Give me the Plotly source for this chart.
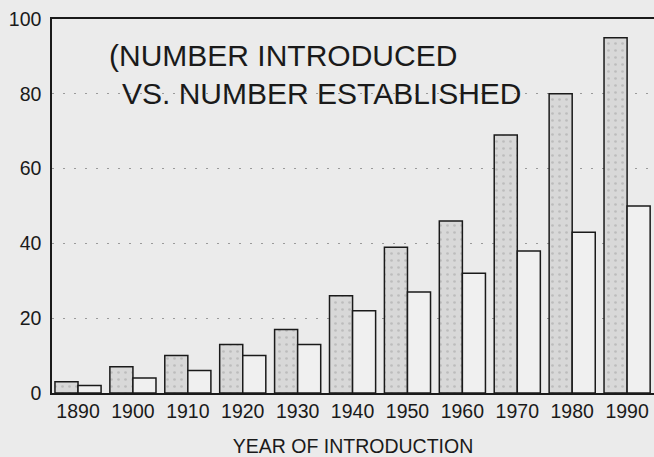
import plotly.graph_objects as go

decades = ["1890", "1900", "1910", "1920", "1930", "1940", "1950", "1960", "1970", "1980", "1990"]
introduced = [3, 7, 10, 13, 17, 26, 39, 46, 69, 80, 95]
established = [2, 4, 6, 10, 13, 22, 27, 32, 38, 43, 50]
y_ticks = [0, 20, 40, 60, 80, 100]

BG = "#ebebeb"
FONT = "Liberation Sans, Arial, sans-serif"

fig = go.Figure()
fig.add_trace(go.Bar(
    x=decades, y=introduced, name="Introduced",
    marker=dict(color="#d8d8d8", line=dict(color="#1a1a1a", width=1.5),
                pattern=dict(shape=".", fgcolor="#a0a0a0", bgcolor="#d8d8d8", size=7, solidity=0.12)),
))
fig.add_trace(go.Bar(
    x=decades, y=established, name="Established",
    marker=dict(color="#f0f0f0", line=dict(color="#1a1a1a", width=1.5)),
))

fig.update_layout(
    width=654, height=457,
    margin=dict(l=52, r=0, t=19, b=64, autoexpand=False),
    paper_bgcolor=BG, plot_bgcolor=BG,
    barmode="group", bargap=0.16, bargroupgap=0,
    showlegend=False,
    font=dict(family=FONT, color="#1a1a1a"),
    xaxis=dict(
        type="category", range=[-0.474, 10.49], automargin=False,
        showline=True, linecolor="#1a1a1a", linewidth=1.5, mirror=True,
        showgrid=False, ticks="", tickfont=dict(size=19.5),
        title=dict(text="YEAR OF INTRODUCTION", font=dict(size=19.5), standoff=22),
    ),
    yaxis=dict(
        range=[0, 100], tickvals=y_ticks, automargin=False,
        showline=True, linecolor="#1a1a1a", linewidth=1.5, mirror=False,
        showgrid=True, gridcolor="#9a9a9a", gridwidth=1, griddash="2px,9px",
        zeroline=False, ticks="", tickfont=dict(size=19.5), ticklabelstandoff=5,
    ),
    annotations=[
        dict(text="(NUMBER INTRODUCED", xref="paper", yref="paper",
             x=(107 - 52) / 602, y=(393 - 55) / 374, xanchor="left", yanchor="middle",
             showarrow=False, font=dict(size=30, family=FONT, color="#1a1a1a")),
        dict(text="VS. NUMBER ESTABLISHED", xref="paper", yref="paper",
             x=(120 - 52) / 602, y=(393 - 93) / 374, xanchor="left", yanchor="middle",
             showarrow=False, font=dict(size=30, family=FONT, color="#1a1a1a")),
    ],
)

fig.write_html("out.html", config={"displayModeBar": False},
               post_script="document.body.style.margin='0';document.body.style.background='#ebebeb';")
